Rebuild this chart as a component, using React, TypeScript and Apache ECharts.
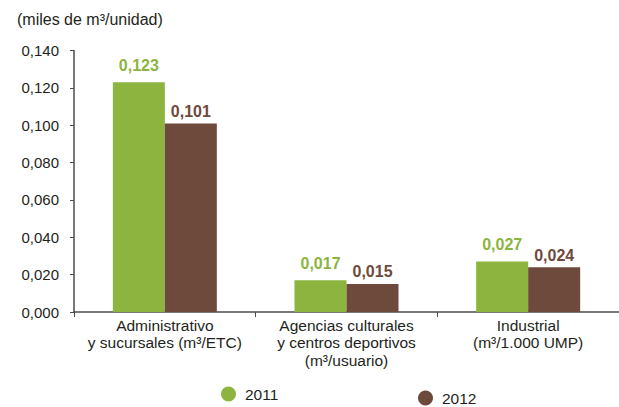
import React, { useEffect, useRef } from "react";
import * as echarts from "echarts";

const categories = [
  "Administrativo\ny sucursales (m³/ETC)",
  "Agencias culturales\ny centros deportivos\n(m³/usuario)",
  "Industrial\n(m³/1.000 UMP)",
];
const values2011 = [0.123, 0.017, 0.027];
const values2012 = [0.101, 0.015, 0.024];
const seriesNames = ["2011", "2012"];
const unitTitle = "(miles de m³/unidad)";

const GREEN = "#8cb43f";
const BROWN = "#6e4a3c";
const TEXT = "#231f20";
const FONT = "'Liberation Sans', Arial, Helvetica, sans-serif";

const fmt = (v: number) => v.toFixed(3).replace(".", ",");

export default function App() {
  const ref = useRef<HTMLDivElement>(null);
  useEffect(() => {
    if (!ref.current) return;
    const chart = echarts.init(ref.current, undefined, { renderer: "svg" });
    const legendBase = {
      padding: 0,
      icon: "circle",
      itemWidth: 15,
      itemHeight: 15,
      textStyle: { fontFamily: FONT, fontSize: 15.5, color: TEXT, padding: [0, 0, 0, 4] },
    };
    chart.setOption({
      animation: false,
      backgroundColor: "#ffffff",
      title: {
        text: unitTitle,
        left: 17,
        top: 11,
        padding: 0,
        textStyle: { fontFamily: FONT, fontSize: 16, fontWeight: "normal", color: TEXT },
      },
      legend: [
        { ...legendBase, data: [seriesNames[0]], left: 221, top: 386 },
        { ...legendBase, data: [seriesNames[1]], left: 418, top: 390 },
      ],
      grid: { left: 74, right: 0, top: 50.6, bottom: 95, containLabel: false },
      xAxis: {
        type: "category",
        data: categories,
        axisLine: { show: true, lineStyle: { color: "#4d4d4d", width: 1.5 } },
        axisTick: { show: true, length: 5, lineStyle: { color: "#4d4d4d" } },
        axisLabel: {
          fontFamily: FONT,
          fontSize: 15.5,
          color: TEXT,
          lineHeight: 17.3,
          margin: 5,
          interval: 0,
        },
      },
      yAxis: {
        type: "value",
        min: 0,
        max: 0.14,
        interval: 0.02,
        axisLine: { show: true, lineStyle: { color: "#4d4d4d", width: 1.5 } },
        axisTick: { show: true, length: 4, lineStyle: { color: "#4d4d4d" } },
        splitLine: { show: false },
        axisLabel: {
          fontFamily: FONT,
          fontSize: 15,
          color: TEXT,
          margin: 15,
          formatter: (v: number) => fmt(v),
        },
      },
      series: [
        {
          name: seriesNames[0],
          type: "bar",
          data: values2011,
          barWidth: 52,
          barGap: "0%",
          itemStyle: { color: GREEN },
          label: {
            show: true,
            position: "top",
            distance: 9,
            fontFamily: FONT,
            fontSize: 16,
            fontWeight: "bold",
            color: GREEN,
            formatter: (p: any) => fmt(p.value),
          },
        },
        {
          name: seriesNames[1],
          type: "bar",
          data: values2012,
          barWidth: 52,
          barGap: "0%",
          itemStyle: { color: BROWN },
          label: {
            show: true,
            position: "top",
            distance: 4,
            fontFamily: FONT,
            fontSize: 16,
            fontWeight: "bold",
            color: BROWN,
            formatter: (p: any) => fmt(p.value),
          },
        },
      ],
    });
    return () => chart.dispose();
  }, []);
  return <div ref={ref} style={{ width: 619, height: 407, position: "absolute", left: 0, top: 0 }} />;
}
